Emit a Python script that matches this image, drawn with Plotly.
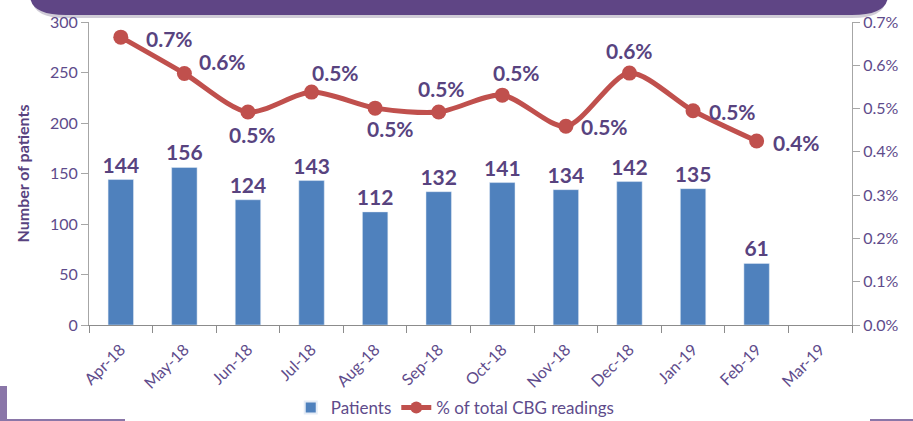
import plotly.graph_objects as go

months = ["Apr-18", "May-18", "Jun-18", "Jul-18", "Aug-18", "Sep-18",
          "Oct-18", "Nov-18", "Dec-18", "Jan-19", "Feb-19", "Mar-19"]
patients = [144, 156, 124, 143, 112, 132, 141, 134, 142, 135, 61, None]
cbg_pct = [0.665, 0.581, 0.492, 0.538, 0.501, 0.492, 0.531, 0.459, 0.582, 0.495, 0.425, None]
# label offsets (pixels) for the percentage labels
lab_dx = [49, 38, 5, 24, 15, 3, 14, 39, 0, 39, 40]
lab_dy = [-1, 12, -22, 20, -20, 24, 23, 0, 23, -1, -1]

W, H = 913, 421
L, R, T, B = 89, 852, 22, 325

PURPLE = "#58437f"
TICK = "#5e4b8b"
BLUE = "#4f81bd"
RED = "#c0504d"
FONT = "Lato"


def px(x):
    return (x - L) / (R - L)


def py(y):
    return (B - y) / (B - T)


fig = go.Figure()
fig.add_trace(go.Bar(
    x=months, y=patients, name="Patients", marker_color=BLUE,
    text=[str(v) if v is not None else "" for v in patients],
    textposition="outside", cliponaxis=False, constraintext="none",
    textfont=dict(family=FONT, size=21, color=PURPLE, weight="bold"),
))
fig.add_trace(go.Scatter(
    x=months, y=cbg_pct, name="% of total CBG readings", yaxis="y2",
    mode="lines+markers", line=dict(color=RED, width=5, shape="spline", smoothing=0.8),
    marker=dict(color=RED, size=15), cliponaxis=False,
))

for m, v, dx, dy in zip(months, cbg_pct, lab_dx, lab_dy):
    fig.add_annotation(x=m, y=v, yref="y2", text=f"{v:.1f}%", showarrow=False,
                       xshift=dx, yshift=dy,
                       font=dict(family=FONT, size=21, color=PURPLE, weight="bold"))

# banner at top (rounded bottom corners)
x0, x1, yt, yb, r = 30, 888, -5, 15, 20
banner = (f"M {px(x0)} {py(yt)} L {px(x0)} {py(yb - r)} "
          f"Q {px(x0)} {py(yb)} {px(x0 + r * 1.8)} {py(yb)} "
          f"L {px(x1 - r * 1.8)} {py(yb)} Q {px(x1)} {py(yb)} {px(x1)} {py(yb - r)} "
          f"L {px(x1)} {py(yt)} Z")
shadow = (f"M {px(x0 + 2)} {py(yt)} L {px(x0 + 2)} {py(yb - r + 3)} "
          f"Q {px(x0 + 2)} {py(yb + 3)} {px(x0 + r * 1.8)} {py(yb + 3)} "
          f"L {px(x1 - r * 1.8)} {py(yb + 3)} Q {px(x1 - 2)} {py(yb + 3)} {px(x1 - 2)} {py(yb - r + 3)} "
          f"L {px(x1 - 2)} {py(yt)} Z")
shapes = [
    dict(type="path", path=shadow, xref="paper", yref="paper",
         fillcolor="rgba(120,110,140,0.35)", line=dict(width=0), layer="below"),
    dict(type="path", path=banner, xref="paper", yref="paper",
         fillcolor="#5f4585", line=dict(width=0), layer="below"),
    dict(type="rect", xref="paper", yref="paper", x0=px(0), x1=px(7), y0=py(421), y1=py(386),
         fillcolor="#8a76a8", line=dict(width=0), layer="below"),
    dict(type="rect", xref="paper", yref="paper", x0=px(0), x1=px(125), y0=py(421), y1=py(419),
         fillcolor="#8a76a8", line=dict(width=0), layer="below"),
    dict(type="rect", xref="paper", yref="paper", x0=px(870), x1=px(913), y0=py(421), y1=py(419),
         fillcolor="#8a76a8", line=dict(width=0), layer="below"),
]

fig.update_layout(
    width=W, height=H,
    margin=dict(l=L, r=W - R, t=T, b=H - B, autoexpand=False),
    paper_bgcolor="white", plot_bgcolor="white",
    font=dict(family=FONT, color=TICK, size=16),
    bargap=0.6,
    showlegend=True,
    legend=dict(orientation="h", x=0.48, xanchor="center", y=py(408), yanchor="middle",
                font=dict(family=FONT, size=17, color=TICK), itemwidth=30,
                tracegroupgap=0, itemsizing="constant"),
    xaxis=dict(type="category", categoryorder="array", categoryarray=months,
               tickangle=-45, showline=True, linecolor="#8c8c8c", linewidth=1,
               ticks="outside", tickson="boundaries", ticklen=7, tickcolor="#8c8c8c",
               tickfont=dict(family=FONT, size=16, color=TICK), showgrid=False,
               range=[-0.5, 11.5], automargin=False, ticklabelstandoff=8),
    yaxis=dict(range=[0, 300], dtick=50, showline=True, linecolor="#a6a6a6", linewidth=1,
               ticks="outside", ticklen=7, tickcolor="#a6a6a6", showgrid=False,
               zeroline=False, tickfont=dict(family=FONT, size=16, color=TICK),
               automargin=False,
               title=dict(text="<b>Number of patients</b>", standoff=16,
                          font=dict(family=FONT, size=16, color=PURPLE))),
    yaxis2=dict(range=[0, 0.7], dtick=0.1, overlaying="y", side="right",
                showline=True, linecolor="#a6a6a6", linewidth=1, ticks="outside",
                ticklen=7, tickcolor="#a6a6a6", showgrid=False, zeroline=False,
                tickformat=".1f", ticksuffix="%", automargin=False,
                tickfont=dict(family=FONT, size=16, color=TICK)),
    shapes=shapes,
)

fig.write_html("out.html", config={"displayModeBar": False},
               post_script="document.body.style.margin='0';document.body.style.overflow='hidden';")
